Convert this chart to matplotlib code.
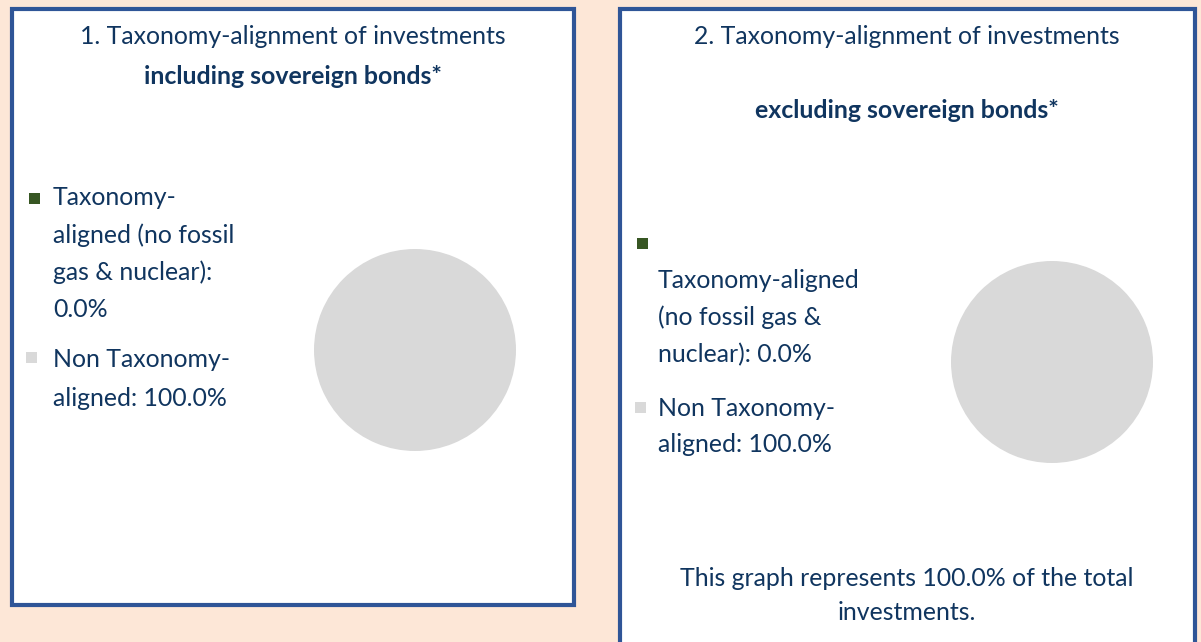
import matplotlib.pyplot as plt
from matplotlib.patches import Rectangle

# data
categories = ["Taxonomy-aligned (no fossil gas & nuclear)", "Non Taxonomy-aligned"]
incl_values = [0.0, 100.0]
excl_values = [0.0, 100.0]
slice_colors = ["#375623", "#D9D9D9"]
share_of_total = 100.0

W, H = 1201, 642
NAVY = "#10355F"
BORDER = "#2F5597"
FONT = "Lato"

fig = plt.figure(figsize=(W / 100, H / 100), dpi=100)
fig.patch.set_facecolor("#FDE7D7")


def px(x, y):
    return x / W, 1 - y / H


def box(x0, y0, x1, y1):
    fig.add_artist(Rectangle(px(x0, y1), (x1 - x0) / W, (y1 - y0) / H,
                             transform=fig.transFigure, facecolor="white",
                             edgecolor=BORDER, linewidth=3.0, zorder=0))


def txt(x, y, s, ha="left", bold=False, size=17.9):
    fig.text(*px(x, y), s, ha=ha, va="center", color=NAVY, fontsize=size,
             family=FONT, fontweight="bold" if bold else "normal")


def pie(cx, cy, r, values):
    ax = fig.add_axes([(cx - r) / W, (H - cy - r) / H, 2 * r / W, 2 * r / H])
    ax.pie(values, colors=slice_colors, startangle=90, counterclock=False,
           radius=1, wedgeprops=dict(linewidth=0))
    ax.set_xlim(-1, 1)
    ax.set_ylim(-1, 1)
    ax.set_aspect("auto")
    ax.axis("off")


def square(x, y, color, s=11):
    fig.add_artist(Rectangle(px(x - s / 2, y + s / 2), s / W, s / H,
                             transform=fig.transFigure, facecolor=color,
                             edgecolor="none"))


def fmt(v):
    return f"{v:.1f}%"


# left panel
box(12, 9, 574, 605)
txt(293, 37, "1. Taxonomy-alignment of investments", ha="center")
txt(293, 76, "including sovereign bonds*", ha="center", bold=True)
square(34, 198, slice_colors[0])
left_lab1 = ["Taxonomy-", "aligned (no fossil", "gas & nuclear):", fmt(incl_values[0])]
for i, s in enumerate(left_lab1):
    txt(53, 198 + i * 37.3, s)
square(31, 357, slice_colors[1])
left_lab2 = ["Non Taxonomy-", "aligned: " + fmt(incl_values[1])]
for i, s in enumerate(left_lab2):
    txt(53, 360 + i * 38, s)
pie(415, 350, 101, incl_values)

# right panel
box(620, 9, 1195, 660)
txt(907, 37, "2. Taxonomy-alignment of investments", ha="center")
txt(907, 111, "excluding sovereign bonds*", ha="center", bold=True)
square(642, 243, slice_colors[0])
right_lab1 = ["Taxonomy-aligned", "(no fossil gas &", "nuclear): " + fmt(excl_values[0])]
for i, s in enumerate(right_lab1):
    txt(658, 280 + i * 37.5, s)
square(640, 407, slice_colors[1])
right_lab2 = ["Non Taxonomy-", "aligned: " + fmt(excl_values[1])]
for i, s in enumerate(right_lab2):
    txt(658, 408 + i * 36.5, s)
pie(1052, 362, 101, excl_values)

txt(907, 578, f"This graph represents {share_of_total:.1f}% of the total", ha="center")
txt(907, 613, "investments.", ha="center")

fig.savefig("out.png", dpi=100, facecolor=fig.get_facecolor())
